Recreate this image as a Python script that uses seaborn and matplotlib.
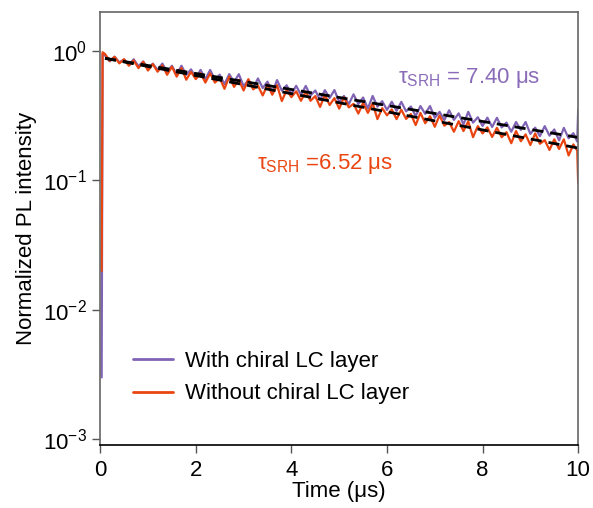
# PL decay: with / without chiral LC layer
import numpy as np
import pandas as pd
import matplotlib
matplotlib.use('Agg')
import matplotlib.pyplot as plt
import seaborn as sns

# time grid (us) for the decay traces, 0.1 us steps
time_decay = np.round(np.arange(0.1, 9.95, 0.1), 2)

with_lc = [0.924, 0.833, 0.906, 0.818, 0.864, 0.779, 0.865, 0.765, 0.832, 0.728,
           0.801, 0.715, 0.801, 0.688, 0.771, 0.661, 0.771, 0.656, 0.723, 0.618,
           0.716, 0.607, 0.715, 0.603, 0.657, 0.555, 0.664, 0.576, 0.663, 0.536,
           0.598, 0.516, 0.615, 0.518, 0.581, 0.477, 0.597, 0.495, 0.544, 0.466,
           0.539, 0.458, 0.538, 0.454, 0.496, 0.419, 0.499, 0.434, 0.500, 0.404,
           0.450, 0.389, 0.463, 0.390, 0.438, 0.360, 0.450, 0.372, 0.410, 0.351,
           0.406, 0.345, 0.405, 0.342, 0.373, 0.315, 0.376, 0.327, 0.376, 0.305,
           0.339, 0.293, 0.349, 0.294, 0.330, 0.271, 0.339, 0.280, 0.308, 0.264,
           0.306, 0.259, 0.305, 0.257, 0.280, 0.238, 0.283, 0.246, 0.283, 0.229,
           0.256, 0.220, 0.263, 0.222, 0.248, 0.204, 0.255, 0.212, 0.232]

without_lc = [0.950, 0.840, 0.903, 0.804, 0.866, 0.771, 0.847, 0.739, 0.827, 0.708,
              0.794, 0.693, 0.776, 0.656, 0.758, 0.635, 0.740, 0.601, 0.691, 0.608,
              0.675, 0.571, 0.673, 0.571, 0.621, 0.511, 0.636, 0.529, 0.599, 0.496,
              0.607, 0.506, 0.541, 0.454, 0.549, 0.460, 0.546, 0.411, 0.500, 0.441,
              0.489, 0.413, 0.486, 0.413, 0.449, 0.370, 0.460, 0.383, 0.433, 0.359,
              0.439, 0.367, 0.391, 0.329, 0.397, 0.333, 0.395, 0.298, 0.362, 0.319,
              0.354, 0.298, 0.352, 0.299, 0.326, 0.268, 0.333, 0.277, 0.314, 0.260,
              0.318, 0.265, 0.283, 0.238, 0.287, 0.241, 0.286, 0.216, 0.263, 0.231,
              0.257, 0.217, 0.255, 0.216, 0.236, 0.194, 0.241, 0.201, 0.227, 0.188,
              0.231, 0.192, 0.205, 0.172, 0.208, 0.175, 0.208, 0.156, 0.190]

# rising edge at start and glitch at the very end
start_t = [0.03, 0.05]
with_start = [0.003, 0.95]
without_start = [0.02, 0.98]
end_t = [9.98, 10.0]
with_end = [0.20, 0.35]
without_end = [0.17, 0.095]

# mono-exponential fit lines (end points)
fit_t = [0.1, 10.0]
fit_with = [0.88, 0.215]
fit_without = [0.88, 0.178]

labels = ['With chiral LC layer', 'Without chiral LC layer']
colors = ['#8063b4', '#ea4510']

# Build the long table for seaborn
t_all = np.concatenate([start_t, time_decay, end_t])
df = pd.concat([
    pd.DataFrame({'t': t_all, 'I': with_start + with_lc + with_end, 'sample': labels[0]}),
    pd.DataFrame({'t': t_all, 'I': without_start + without_lc + without_end, 'sample': labels[1]}),
])

sns.set_style('ticks')
plt.rcParams['font.family'] = ['Liberation Sans', 'DejaVu Sans']
plt.rcParams['mathtext.fontset'] = 'custom'
plt.rcParams['mathtext.rm'] = 'Liberation Sans'
plt.rcParams['mathtext.it'] = 'Liberation Sans'
plt.rcParams['text.color'] = 'black'
plt.rcParams['axes.labelcolor'] = 'black'

fig = plt.figure(figsize=(5.93, 5.08), dpi=100)
ax = fig.add_axes([0.169, 0.124, 0.806, 0.852])

sns.lineplot(data=df, x='t', y='I', hue='sample', palette=colors, sort=False,
             estimator=None, linewidth=1.6, ax=ax)
ax.plot(fit_t, fit_with, color='black', linestyle=(0, (4, 2.5)), linewidth=2)
ax.plot(fit_t, fit_without, color='black', linestyle=(0, (4, 2.5)), linewidth=2)

ax.set_yscale('log')
ax.set_xlim(0, 10)
ax.set_ylim(9e-4, 2.0)
ax.set_xticks([0, 2, 4, 6, 8, 10])
ax.set_yticks([1e-3, 1e-2, 1e-1, 1e0])
ax.yaxis.set_minor_locator(matplotlib.ticker.NullLocator())
ax.tick_params(labelsize=16, length=6, width=1, color='#555555', labelcolor='black',
               direction='out')
ax.tick_params(axis='x', pad=5)
ax.set_xlabel('Time (μs)', fontsize=16, labelpad=0)
ax.set_ylabel('Normalized PL intensity', fontsize=16, labelpad=4)
for s in ax.spines.values():
    s.set_color('#666666')
    s.set_linewidth(1.2)
ax.spines['bottom'].set_color('black')

ax.text(6.23, 0.62, r'$\tau_{\rm SRH}$ = 7.40 μs', color='#8a6bb8', fontsize=16, va='center')
ax.text(3.27, 0.133, r'$\tau_{\rm SRH}$ =6.52 μs', color='#ea4510', fontsize=16, va='center')

leg = ax.legend(loc='upper left', bbox_to_anchor=(0.027, 0.263), frameon=False, fontsize=16,
                handlelength=1.8, handletextpad=0.55, labelspacing=0.5)
for h in leg.get_lines():
    h.set_linewidth(2)

fig.savefig('out.png', dpi=100)
